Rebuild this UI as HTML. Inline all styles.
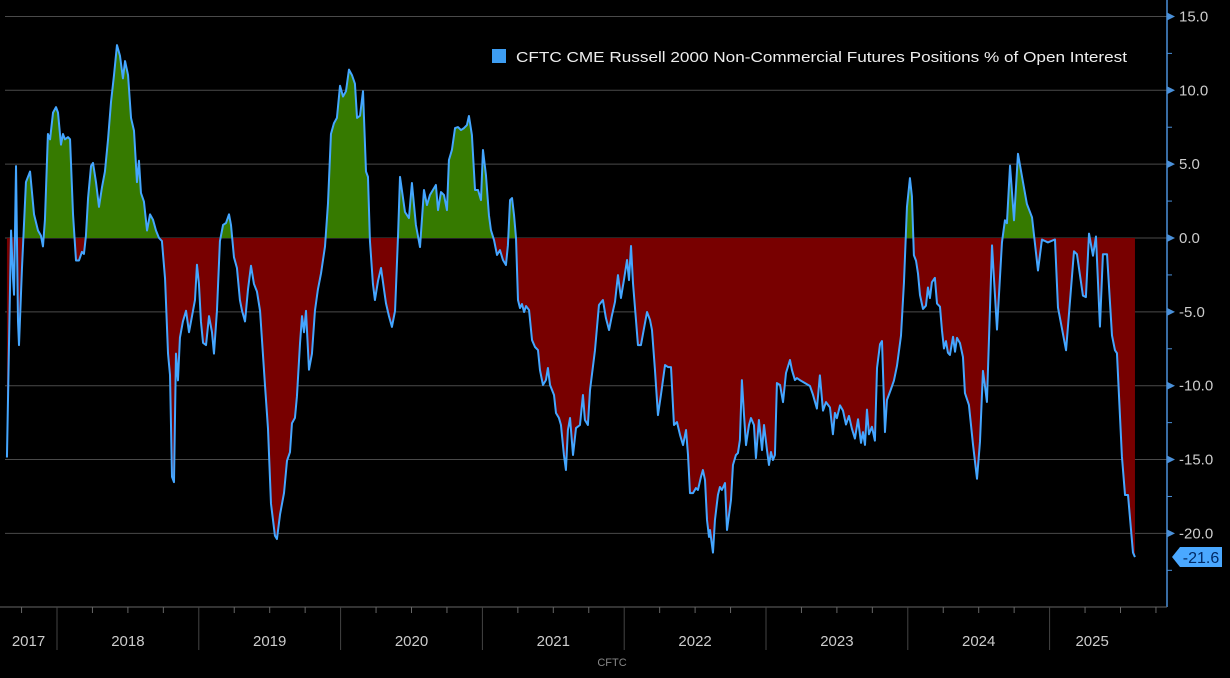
<!DOCTYPE html>
<html><head><meta charset="utf-8"><style>
body{margin:0;background:#000;}
svg{display:block;font-family:"Liberation Sans",sans-serif;}
</style></head><body>
<svg id="chart" width="1230" height="678" viewBox="0 0 1230 678" xmlns="http://www.w3.org/2000/svg">
<rect width="1230" height="678" fill="#000"/>
<defs>
<clipPath id="above"><rect x="0" y="0" width="1167" height="238"/></clipPath>
<clipPath id="below"><rect x="0" y="238" width="1167" height="400"/></clipPath>
</defs>
<g id="grid"></g>
<g id="areas"></g>
<g id="lineg"></g>
<g id="yaxis"></g>
<g id="xaxis"></g>
<g>
<rect x="492" y="49" width="14" height="14" fill="#3d9df2"/>
<text x="516" y="62" fill="#eee" font-size="15" textLength="611" lengthAdjust="spacingAndGlyphs">CFTC CME Russell 2000 Non-Commercial Futures Positions % of Open Interest</text>
</g>
<text x="612" y="666" fill="#888" font-size="11" text-anchor="middle">CFTC</text>
</svg>
<script>
const dates=[2017.647,2017.676,2017.690,2017.697,2017.711,2017.725,2017.732,2017.753,2017.781,2017.810,2017.838,2017.866,2017.887,2017.901,2017.915,2017.936,2017.951,2017.972,2017.993,2018.007,2018.028,2018.042,2018.056,2018.078,2018.092,2018.113,2018.134,2018.155,2018.176,2018.190,2018.204,2018.219,2018.240,2018.254,2018.275,2018.296,2018.317,2018.338,2018.360,2018.381,2018.402,2018.423,2018.444,2018.465,2018.480,2018.501,2018.522,2018.543,2018.564,2018.578,2018.592,2018.613,2018.635,2018.656,2018.677,2018.698,2018.719,2018.740,2018.762,2018.783,2018.797,2018.811,2018.825,2018.839,2018.853,2018.867,2018.888,2018.910,2018.931,2018.952,2018.973,2018.987,2019.001,2019.015,2019.030,2019.051,2019.072,2019.093,2019.107,2019.128,2019.149,2019.171,2019.192,2019.213,2019.227,2019.248,2019.269,2019.290,2019.305,2019.326,2019.347,2019.368,2019.389,2019.410,2019.432,2019.467,2019.488,2019.509,2019.537,2019.551,2019.573,2019.601,2019.622,2019.643,2019.657,2019.678,2019.692,2019.714,2019.728,2019.742,2019.756,2019.777,2019.798,2019.819,2019.840,2019.862,2019.890,2019.911,2019.932,2019.953,2019.974,2019.996,2020.017,2020.038,2020.059,2020.080,2020.101,2020.116,2020.137,2020.158,2020.179,2020.193,2020.207,2020.228,2020.242,2020.264,2020.285,2020.306,2020.320,2020.341,2020.362,2020.384,2020.405,2020.419,
2020.454,2020.482,2020.503,2020.531,2020.560,2020.588,2020.609,2020.630,2020.651,2020.672,2020.687,2020.708,2020.729,2020.750,2020.764,2020.785,2020.807,2020.828,2020.849,2020.870,2020.891,2020.905,2020.926,2020.948,2020.969,2020.990,2021.004,2021.025,2021.046,2021.060,2021.082,2021.103,2021.124,2021.145,2021.166,2021.180,2021.195,2021.209,2021.223,2021.237,2021.251,2021.265,2021.279,2021.294,2021.308,2021.329,2021.350,2021.371,2021.392,2021.406,2021.427,2021.448,2021.462,2021.477,2021.505,2021.519,2021.540,2021.554,2021.575,2021.589,2021.603,2021.618,2021.639,2021.660,2021.688,2021.709,2021.723,2021.744,2021.759,2021.794,2021.822,2021.850,2021.871,2021.893,2021.914,2021.935,2021.956,2021.977,2021.998,2022.020,2022.034,2022.048,2022.062,2022.083,2022.097,2022.118,2022.140,2022.161,2022.182,2022.196,2022.217,2022.238,2022.259,2022.288,2022.309,2022.330,2022.351,2022.372,2022.394,2022.415,2022.436,2022.450,2022.464,2022.485,2022.506,2022.520,2022.541,2022.555,2022.570,2022.584,2022.598,2022.605,2022.626,2022.640,2022.661,2022.675,2022.689,2022.711,2022.725,2022.753,2022.767,2022.788,2022.802,2022.816,2022.830,2022.845,2022.859,2022.880,2022.894,2022.915,2022.929,2022.950,2022.972,2022.986,2023.007,2023.021,2023.035,2023.049,2023.063,2023.077,2023.099,2023.120,2023.141,2023.169,2023.183,2023.204,2023.218,2023.239,
2023.310,2023.331,2023.359,2023.380,2023.402,2023.423,2023.451,2023.472,2023.486,2023.500,2023.522,2023.543,2023.564,2023.585,2023.606,2023.627,2023.649,2023.670,2023.684,2023.698,2023.712,2023.726,2023.747,2023.768,2023.783,2023.804,2023.818,2023.839,2023.853,2023.881,2023.902,2023.924,2023.952,2023.973,2023.994,2024.015,2024.029,2024.043,2024.058,2024.072,2024.086,2024.107,2024.128,2024.142,2024.156,2024.170,2024.191,2024.206,2024.227,2024.241,2024.255,2024.269,2024.283,2024.297,2024.319,2024.333,2024.347,2024.368,2024.389,
2024.403,2024.431,2024.460,2024.488,2024.509,2024.530,2024.544,2024.558,2024.594,2024.629,2024.664,2024.685,2024.699,2024.721,2024.749,2024.777,2024.812,2024.840,2024.876,2024.918,2024.946,2024.988,2025.038,2025.059,2025.116,2025.172,2025.193,2025.235,2025.256,2025.278,2025.306,2025.327,2025.355,2025.376,2025.405,2025.440,2025.461,2025.475,2025.510,2025.532,2025.553,2025.588,2025.602];
const values=[-14.86,0.51,-2.75,-3.84,4.87,-5.65,-7.25,-2.03,3.78,4.50,1.60,0.51,0.15,-0.57,1.24,7.04,6.68,8.49,8.86,8.49,6.32,7.04,6.68,6.83,6.68,1.60,-1.52,-1.52,-0.94,-1.08,0.15,2.69,4.87,5.08,3.78,2.11,3.42,4.50,6.68,9.22,11.03,13.06,12.34,10.81,11.98,11.03,8.13,7.26,3.78,5.23,3.05,2.47,0.51,1.60,1.24,0.51,0.01,-0.21,-2.75,-7.83,-9.28,-16.17,-16.53,-7.83,-9.64,-6.74,-5.65,-4.93,-6.38,-5.29,-4.20,-1.81,-3.11,-5.65,-7.10,-7.25,-5.29,-6.38,-7.83,-4.93,-0.21,0.88,1.02,1.60,0.88,-1.30,-2.03,-4.20,-4.93,-5.65,-3.48,-1.88,-3.11,-3.62,-4.93,-10.00,-12.91,-17.98,-20.16,-20.38,-18.71,-17.26,-15.08,-14.50,-12.54,-12.18,-10.73,-7.10,-5.29,-6.38,-4.93,-8.92,-7.83,-4.93,-3.48,-2.39,-0.57,2.33,7.04,7.77,8.13,10.31,9.58,9.94,11.40,11.03,10.45,8.13,8.28,9.94,4.50,4.14,-0.21,-3.11,-4.20,-2.90,-2.03,-3.48,-4.42,-5.29,-6.02,-4.93,0.15,4.14,
1.76,1.35,3.72,0.88,-0.61,3.25,2.23,2.91,3.25,3.59,1.89,3.11,2.91,1.89,5.28,5.96,7.44,7.51,7.31,7.44,7.65,8.26,6.97,3.25,3.25,2.57,5.96,4.26,1.55,0.54,-0.14,-1.15,-0.82,-1.49,-1.83,-0.48,2.57,2.70,1.55,0.00,-4.20,-4.74,-4.47,-5.01,-4.61,-4.88,-6.91,-7.38,-7.59,-8.94,-9.95,-9.62,-8.80,-9.95,-10.63,-11.85,-12.19,-12.66,-14.69,-15.71,-13.00,-12.19,-14.69,-12.87,-12.66,-10.63,-12.32,-12.66,-10.29,-7.59,-4.54,-4.20,-5.42,-6.23,-5.22,-4.33,-2.51,-4.06,-2.85,-1.49,-2.85,-0.54,-3.05,-5.55,-7.25,-7.25,-6.10,-5.01,-5.55,-6.23,-8.94,-11.99,-10.63,-8.60,-8.74,-8.74,-12.66,-12.46,-13.34,-14.02,-13.00,-14.69,-17.27,-17.27,-16.93,-17.06,-16.18,-15.71,-16.39,-19.09,-20.24,-19.77,-21.3,-19.09,-17.40,-16.86,-17.06,-16.59,-19.77,-17.74,-15.37,-14.69,-14.56,-13.68,-9.62,-11.99,-14.02,-12.66,-12.19,-12.66,-14.90,-12.32,-14.36,-12.66,-14.36,-15.37,-14.49,-15.03,-14.69,-9.82,-9.95,-11.11,-9.14,-8.26,-8.94,-9.62,-9.48,-9.62,
-10.02,-10.60,-11.55,-9.30,-11.69,-11.11,-11.47,-13.29,-11.84,-12.20,-11.33,-11.69,-12.63,-12.05,-12.92,-13.58,-12.27,-13.87,-13.14,-14.01,-11.62,-13.29,-12.78,-13.72,-8.79,-7.19,-6.98,-13.14,-10.97,-10.24,-9.66,-8.64,-6.61,-2.99,2.09,4.05,2.82,-1.17,-1.54,-2.41,-3.86,-4.80,-4.58,-3.35,-4.07,-2.99,-2.70,-4.44,-4.65,-6.25,-7.48,-6.98,-7.77,-7.92,-6.69,-7.70,-6.76,-7.12,-8.06,
-10.5,-11.3,-14.0,-16.3,-13.8,-9.0,-10.0,-11.1,-0.5,-6.2,-0.3,1.2,1.0,4.9,1.2,5.7,3.8,2.3,1.4,-2.2,-0.1,-0.3,-0.1,-4.7,-7.6,-0.9,-1.1,-3.9,-4.0,0.3,-1.2,0.1,-6.0,-1.1,-1.1,-6.6,-7.6,-7.8,-14.8,-17.4,-17.4,-21.3,-21.6];
const yTicks=[15,10,5,0,-5,-10,-15,-20];
const yTickLabels=["15.0","10.0","5.0","0.0","-5.0","-10.0","-15.0","-20.0"];
const years=[2017,2018,2019,2020,2021,2022,2023,2024,2025];
const lastValueLabel="-21.6";

const NS="http://www.w3.org/2000/svg";
const xs=t=>57+(t-2018)*141.8;
const ys=v=>238-v*14.77;
function mk(tag,attrs,parent){const e=document.createElementNS(NS,tag);for(const k in attrs)e.setAttribute(k,attrs[k]);parent.appendChild(e);return e;}
const grid=document.getElementById('grid'),areas=document.getElementById('areas'),lineg=document.getElementById('lineg'),yaxis=document.getElementById('yaxis'),xaxis=document.getElementById('xaxis');
const X0=5,XR=1167,YB=607;
yTicks.forEach((v,i)=>{
  const g=mk('line',{x1:X0,x2:XR,y1:ys(v),y2:ys(v),stroke:'#4a4a4a','stroke-width':1},grid);
  
  
  const tri=mk('path',{d:`M${XR},${ys(v)-4}L${XR+8},${ys(v)}L${XR},${ys(v)+4}Z`,fill:'#4a90d9'},yaxis);
  
  
  const tx=mk('text',{x:XR+12,y:ys(v)+5,fill:'#ccc','font-size':15},yaxis);
  tx.textContent=yTickLabels[i];
  
  
});
for(let v=17.5;v>=-25;v-=5){
  const m=mk('line',{x1:XR,x2:XR+5,y1:ys(v),y2:ys(v),stroke:'#4a90d9'},yaxis);
  
  
}
const ax=mk('line',{x1:XR,x2:XR,y1:0,y2:YB,stroke:'#4a90d9','stroke-width':1.5},yaxis);


// areas
const pts=dates.map((d,i)=>[xs(d),ys(values[i])]);
const first=pts[0],last=pts[pts.length-1];
const areaD=`M${first[0]},${ys(0)}`+pts.map(p=>`L${p[0]},${p[1]}`).join('')+`L${last[0]},${ys(0)}Z`;
const ga=mk('path',{d:areaD,fill:'#367a00','clip-path':'url(#above)'},areas);


const ra=mk('path',{d:areaD,fill:'#780000','clip-path':'url(#below)'},areas);


const ln=mk('path',{d:'M'+pts.map(p=>p[0]+','+p[1]).join('L'),fill:'none',stroke:'#44a6ff','stroke-width':2,'stroke-linejoin':'round'},lineg);


// last value badge
const ly=ys(values[values.length-1]);
const bd=mk('path',{d:`M1172,${ly}L1180,${ly-10}L1222,${ly-10}L1222,${ly+10}L1180,${ly+10}Z`,fill:'#4aa8ff'},yaxis);


const bt=mk('text',{x:1201,y:ly+6,fill:'#002a66','font-size':16,'text-anchor':'middle'},yaxis);
bt.textContent=lastValueLabel;


// x axis
const xl=mk('line',{x1:0,x2:XR,y1:YB,y2:YB,stroke:'#666'},xaxis);


for(let q=2017.75;q<2025.9;q+=0.25){
  const x=xs(q);if(x>XR)break;
  const major=Math.abs(q-Math.round(q))<1e-6;
  const t=mk('line',{x1:x,x2:x,y1:YB,y2:major?650:YB+6,stroke:major?'#444':'#666'},xaxis);
  
  
}
years.forEach(y=>{
  let a=Math.max(xs(y),0),b=Math.min(xs(y+1),XR);
  if(y===2025)b=xs(y+0.6);
  const tx=mk('text',{x:(a+b)/2,y:646,fill:'#ccc','font-size':15,'text-anchor':'middle'},xaxis);
  tx.textContent=String(y);
  
  
});
</script>
</body></html>
